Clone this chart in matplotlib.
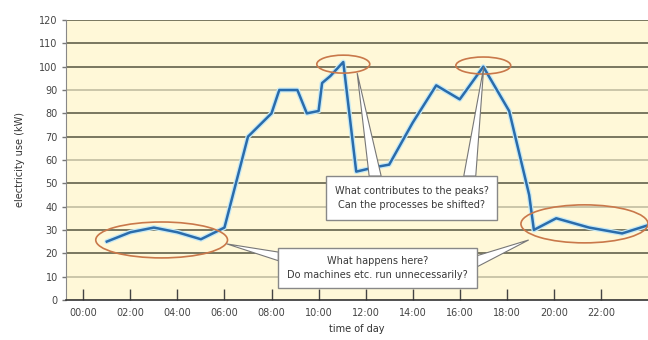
import matplotlib
matplotlib.use("Agg")
import matplotlib.pyplot as plt
from matplotlib.patches import Ellipse, Rectangle, Polygon

# load profile over one day (hour of day, kW)
hours = [1, 2, 3, 4, 5, 6, 7, 8, 8.33, 9.1, 9.5, 10, 10.15, 10.5, 11.05, 11.6,
         12.45, 13, 14, 15, 16, 17, 18.1, 18.95, 19.15, 20.1, 21.5, 22.9, 24]
kw = [25, 29, 31, 29, 26, 31, 70, 80, 90, 90, 80, 81, 93, 96, 102, 55,
      57, 58, 76, 92, 86, 100, 81, 45, 30, 35, 31, 28.5, 32]

tick_hours = list(range(0, 24, 2))
tick_labels = [f"{h:02d}:00" for h in tick_hours]
y_ticks = list(range(0, 121, 10))
dark_grid = [20, 30, 50, 70, 80, 100, 110, 120]

peak_text = "What contributes to the peaks?\nCan the processes be shifted?"
night_text = "What happens here?\nDo machines etc. run unnecessarily?"

fig = plt.figure(figsize=(6.48, 3.40), dpi=100)
ax = fig.add_axes([0.102, 0.118, 0.898, 0.823])
ax.set_facecolor("#fff8d8")

ax.set_xlim(-0.73, 24)
ax.set_ylim(0, 120)

# horizontal guide lines, alternating weight
for y in y_ticks[1:]:
    c = "#55543f" if y in dark_grid else "#bdb99c"
    ax.axhline(y, color=c, lw=1.1, zorder=1)

ax.plot(hours, kw, color="#c6e9f5", lw=3.6, zorder=2, solid_capstyle="round")
ax.plot(hours, kw, color="#2a6cab", lw=1.8, zorder=3)

# highlight ellipses
i_p1 = kw.index(102)
i_p2 = kw.index(100)
ell_style = dict(fill=False, edgecolor="#c9784a", lw=1.2, zorder=4)
ax.add_patch(Ellipse((3.33, 25.7), 5.6, 15.4, **ell_style))
ax.add_patch(Ellipse((hours[i_p1], kw[i_p1] - 0.9), 2.25, 7.7, **ell_style))
ax.add_patch(Ellipse((hours[i_p2], kw[i_p2] + 0.5), 2.33, 7.3, **ell_style))
ax.add_patch(Ellipse((21.3, 32.6), 5.4, 16.3, clip_on=False, **ell_style))

# callout wedges
wedge_style = dict(closed=True, facecolor="white", edgecolor="#777777",
                   lw=0.8, zorder=5)
ax.add_patch(Polygon([(11.64, 97.3), (12.15, 53.1), (12.66, 53.1)], **wedge_style))
ax.add_patch(Polygon([(17.02, 99.9), (16.17, 53.1), (16.68, 53.1)], **wedge_style))
ax.add_patch(Polygon([(6.1, 24.0), (8.29, 20.5), (8.29, 16.8)], **wedge_style))
ax.add_patch(Polygon([(18.93, 25.7), (16.72, 18.9), (16.72, 14.1)], **wedge_style))

# text boxes
box_style = dict(facecolor="white", edgecolor="#888888", lw=1, zorder=6)
ax.add_patch(Rectangle((10.33, 34.3), 7.24, 18.8, **box_style))
ax.add_patch(Rectangle((8.29, 5.1), 8.43, 17.2, **box_style))
ax.text(13.95, 43.7, peak_text, ha="center", va="center", fontsize=7,
        color="#3a3a3a", linespacing=1.5, zorder=7)
ax.text(12.5, 13.7, night_text, ha="center", va="center", fontsize=7,
        color="#3a3a3a", linespacing=1.5, zorder=7)

ax.set_xticks(tick_hours)
ax.set_xticklabels(tick_labels)
ax.set_yticks(y_ticks)
ax.tick_params(axis="x", direction="in", length=8, width=1, color="#444444",
               labelsize=7, labelcolor="#444444", pad=6)
ax.tick_params(axis="y", length=3, width=1, color="#777777",
               labelsize=7, labelcolor="#444444", pad=3)

for side in ["top", "right"]:
    ax.spines[side].set_visible(False)
ax.spines["left"].set_color("#888888")
ax.spines["bottom"].set_color("#333333")
ax.spines["bottom"].set_linewidth(1.2)

ax.set_xlabel("time of day", fontsize=7, color="#333333", labelpad=4)
ax.set_ylabel("electricity use (kW)", fontsize=7, color="#333333", labelpad=10)

fig.savefig("out.png", dpi=100)
